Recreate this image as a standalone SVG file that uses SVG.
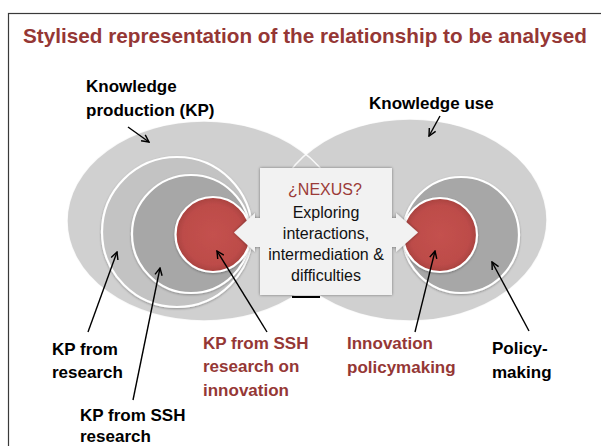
<svg xmlns="http://www.w3.org/2000/svg" width="601" height="446" viewBox="0 0 601 446">
  <defs>
    <style>
      .lbl { font-family: "Liberation Sans", Arial, sans-serif; font-weight: bold; font-size: 17px; fill: #000; }
      .red { fill: #953735; }
      .box { font-family: "Liberation Sans", Arial, sans-serif; font-size: 16px; fill: #111; text-anchor: middle; }
      .ell { fill: #d0d0d0; }
      .ellEdge { fill: none; stroke: #ffffff; stroke-width: 1.5; stroke-opacity: 0.85; }
      .ring { stroke: #ffffff; stroke-width: 2.2; }
      .conn { fill: none; stroke: #000; stroke-width: 1.4; marker-end: url(#arr); }
    </style>
    <marker id="arr" viewBox="0 0 10 10" refX="9" refY="5" markerWidth="9" markerHeight="9" orient="auto" markerUnits="userSpaceOnUse">
      <path d="M1,1 L9,5 L1,9" fill="none" stroke="#000" stroke-width="1.6"/>
    </marker>
    <radialGradient id="redG" cx="0.5" cy="0.5" r="0.5">
      <stop offset="0" stop-color="#c4514e"/>
      <stop offset="0.8" stop-color="#bd4c49"/>
      <stop offset="1" stop-color="#a8413f"/>
    </radialGradient>
    <filter id="sh" x="-20%" y="-20%" width="140%" height="140%">
      <feDropShadow dx="0" dy="0" stdDeviation="1.5" flood-color="#000" flood-opacity="0.45"/>
    </filter>
    <filter id="sh2" x="-20%" y="-20%" width="140%" height="140%">
      <feDropShadow dx="0" dy="1" stdDeviation="1.2" flood-color="#000" flood-opacity="0.3"/>
    </filter>
  </defs>

  <rect x="8.5" y="13.5" width="600" height="440" fill="#ffffff" stroke="#3a3a3a" stroke-width="1.2"/>

  <text id="title" x="23" y="43" font-family="'Liberation Sans', Arial, sans-serif" font-weight="bold" font-size="21" fill="#953735" textLength="564" lengthAdjust="spacingAndGlyphs">Stylised representation of the relationship to be analysed</text>

  <g id="kp-ellipse">
    <ellipse class="ell" cx="204" cy="221" rx="137" ry="100"/>
  </g>
  <g id="ku-ellipse">
    <ellipse class="ell" cx="410" cy="220" rx="137" ry="101"/>
  </g>
  <g id="ellipse-edges">
    <ellipse class="ellEdge" cx="410" cy="220" rx="137" ry="101"/>
    <ellipse class="ellEdge" cx="204" cy="221" rx="137" ry="100"/>
  </g>

  <g id="kp-research">
    <circle class="ring" cx="177" cy="232" r="75" fill="#c3c3c3" filter="url(#sh2)"/>
  </g>
  <g id="kp-ssh">
    <circle class="ring" cx="191" cy="234" r="59" fill="#a7a7a7" filter="url(#sh2)"/>
  </g>
  <g id="kp-ssh-innovation">
    <circle class="ring" cx="213" cy="234.5" r="37.5" fill="url(#redG)" filter="url(#sh2)"/>
  </g>

  <g id="policymaking">
    <circle class="ring" cx="461" cy="235" r="58" fill="#a7a7a7" filter="url(#sh2)"/>
  </g>
  <g id="innovation-policymaking">
    <circle class="ring" cx="440" cy="235" r="37" fill="url(#redG)" filter="url(#sh2)"/>
  </g>

  <g id="nexus">
    <path d="M260,168 L392,168 L392,218 L396,218 L396,213 L418,232.5 L396,252 L396,247 L392,247 L392,295 L260,295 L260,247 L255,247 L255,252 L234,232.5 L255,213 L255,218 L260,218 Z" fill="#f2f2f2" filter="url(#sh)"/>
    <text class="box" x="325" y="195" font-size="15" style="fill:#9b3b38">¿NEXUS?</text>
    <text class="box" x="326" y="218">Exploring</text>
    <text class="box" x="326" y="239">interactions,</text>
    <text class="box" x="326" y="260">intermediation &amp;</text>
    <text class="box" x="326" y="281">difficulties</text>
    <rect x="292" y="296" width="28" height="2" fill="#000"/>
  </g>

  <g id="connectors">
    <line class="conn" x1="128" y1="127" x2="149" y2="142"/>
    <line class="conn" x1="440" y1="116" x2="429" y2="136"/>
    <line class="conn" x1="88" y1="332" x2="117" y2="252"/>
    <line class="conn" x1="133" y1="400" x2="160" y2="268"/>
    <line class="conn" x1="267" y1="332" x2="217" y2="251"/>
    <line class="conn" x1="415" y1="332" x2="435" y2="251"/>
    <line class="conn" x1="529" y1="331" x2="492" y2="262"/>
  </g>

  <g id="labels">
    <text class="lbl" x="86" y="92">Knowledge</text>
    <text class="lbl" x="86" y="116">production (KP)</text>
    <text class="lbl" x="369" y="109">Knowledge use</text>
    <text class="lbl" x="52" y="355">KP from</text>
    <text class="lbl" x="52" y="378">research</text>
    <text class="lbl" x="80" y="421">KP from SSH</text>
    <text class="lbl" x="80" y="442">research</text>
    <text class="lbl red" x="203" y="349">KP from SSH</text>
    <text class="lbl red" x="203" y="372">research on</text>
    <text class="lbl red" x="203" y="396">innovation</text>
    <text class="lbl red" x="347" y="349">Innovation</text>
    <text class="lbl red" x="347" y="373">policymaking</text>
    <text class="lbl" x="492" y="354">Policy-</text>
    <text class="lbl" x="492" y="378">making</text>
  </g>
</svg>
